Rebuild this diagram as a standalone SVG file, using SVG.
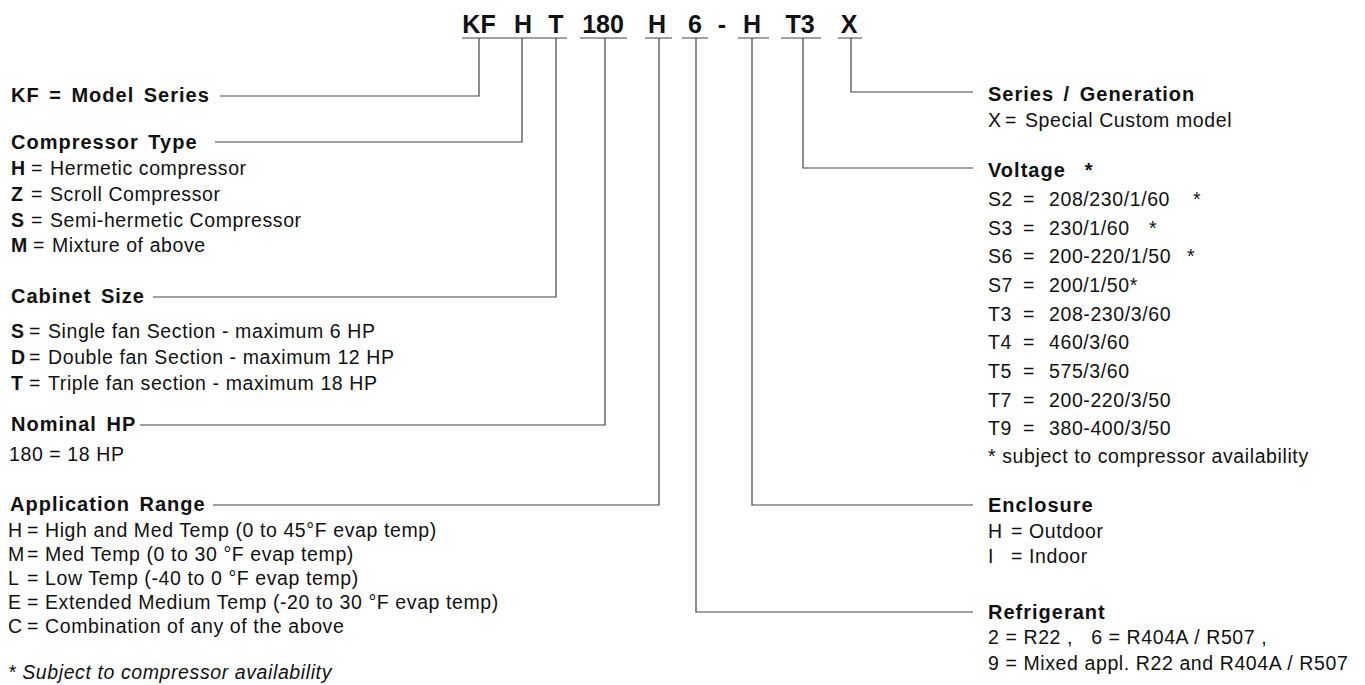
<svg xmlns="http://www.w3.org/2000/svg" width="1365" height="685" viewBox="0 0 1365 685">
<style>
text { fill: #111; font-family: "Liberation Sans", Arial, Helvetica, sans-serif; white-space: pre; }
.code { font-size: 25px; font-weight: bold; text-anchor: middle; }
.lbl { font-size: 20px; font-weight: bold; letter-spacing: 1px; word-spacing: 3px; }
.txt { font-size: 19.5px; letter-spacing: 0.6px; }
.it { font-style: italic; }
.b { font-weight: bold; }
.ln { stroke: #444; stroke-width: 1.2; fill: none; }
</style>
<rect width="1365" height="685" fill="#ffffff"/>

<g id="model-code">
  <text class="code" x="479" y="33">KF</text>
  <text class="code" x="523" y="33">H</text>
  <text class="code" x="556" y="33">T</text>
  <text class="code" x="603" y="33">180</text>
  <text class="code" x="657" y="33">H</text>
  <text class="code" x="695" y="33">6</text>
  <text class="code" x="722" y="33">-</text>
  <text class="code" x="752" y="33">H</text>
  <text class="code" x="800" y="33">T3</text>
  <text class="code" x="849" y="33">X</text>
</g>

<g id="connectors">
  <path class="ln" d="M462 38H567M580 38H627M645 38H672M682 38H708M738 38H769M781 38H821M838 38H862"/>
  <path class="ln" d="M479 38V96H220"/>
  <path class="ln" d="M522 38V142H215"/>
  <path class="ln" d="M556 38V297H153"/>
  <path class="ln" d="M605 38V425H140"/>
  <path class="ln" d="M659 38V505H213"/>
  <path class="ln" d="M696 38V612H973"/>
  <path class="ln" d="M752 38V505H973"/>
  <path class="ln" d="M803 38V168H973"/>
  <path class="ln" d="M851 38V92H973"/>
</g>

<g id="model-series">
  <text class="lbl" x="11" y="102">KF = Model Series</text>
</g>

<g id="compressor-type">
  <text class="lbl" x="11" y="149">Compressor Type</text>
  <text class="txt" y="175"><tspan class="b" x="11">H</tspan><tspan x="31">=</tspan><tspan x="50">Hermetic compressor</tspan></text>
  <text class="txt" y="201"><tspan class="b" x="11">Z</tspan><tspan x="31">=</tspan><tspan x="50">Scroll Compressor</tspan></text>
  <text class="txt" y="227"><tspan class="b" x="11">S</tspan><tspan x="31">=</tspan><tspan x="50">Semi-hermetic Compressor</tspan></text>
  <text class="txt" y="252"><tspan class="b" x="11">M</tspan><tspan x="33">=</tspan><tspan x="52">Mixture of above</tspan></text>
</g>

<g id="cabinet-size">
  <text class="lbl" x="11" y="303">Cabinet Size</text>
  <text class="txt" y="338"><tspan class="b" x="11">S</tspan><tspan x="29">=</tspan><tspan x="48">Single fan Section - maximum 6 HP</tspan></text>
  <text class="txt" y="364"><tspan class="b" x="11">D</tspan><tspan x="29">=</tspan><tspan x="48">Double fan Section - maximum 12 HP</tspan></text>
  <text class="txt" y="390"><tspan class="b" x="11">T</tspan><tspan x="29">=</tspan><tspan x="48">Triple fan section - maximum 18 HP</tspan></text>
</g>

<g id="nominal-hp">
  <text class="lbl" x="11" y="431">Nominal HP</text>
  <text class="txt" x="9" y="461">180 = 18 HP</text>
</g>

<g id="application-range">
  <text class="lbl" x="10" y="511">Application Range</text>
  <text class="txt" y="537"><tspan x="8">H</tspan><tspan x="27">=</tspan><tspan x="45">High and Med Temp (0 to 45°F evap temp)</tspan></text>
  <text class="txt" y="561"><tspan x="8">M</tspan><tspan x="27">=</tspan><tspan x="45">Med Temp (0 to 30 °F evap temp)</tspan></text>
  <text class="txt" y="585"><tspan x="8">L</tspan><tspan x="27">=</tspan><tspan x="45">Low Temp (-40 to 0 °F evap temp)</tspan></text>
  <text class="txt" y="609"><tspan x="8">E</tspan><tspan x="27">=</tspan><tspan x="45">Extended Medium Temp (-20 to 30 °F evap temp)</tspan></text>
  <text class="txt" y="633"><tspan x="8">C</tspan><tspan x="27">=</tspan><tspan x="45">Combination of any of the above</tspan></text>
  <text class="txt it" x="8" y="679">* Subject to compressor availability</text>
</g>

<g id="series-generation">
  <text class="lbl" x="988" y="101">Series / Generation</text>
  <text class="txt" y="127"><tspan x="988">X</tspan><tspan x="1005">=</tspan><tspan x="1025">Special Custom model</tspan></text>
</g>

<g id="voltage">
  <text class="lbl" x="988" y="177">Voltage  *</text>
  <text class="txt" y="206"><tspan x="988">S2</tspan><tspan x="1023">=</tspan><tspan x="1049">208/230/1/60</tspan><tspan x="1193">*</tspan></text>
  <text class="txt" y="235"><tspan x="988">S3</tspan><tspan x="1023">=</tspan><tspan x="1049">230/1/60</tspan><tspan x="1149">*</tspan></text>
  <text class="txt" y="263"><tspan x="988">S6</tspan><tspan x="1023">=</tspan><tspan x="1049">200-220/1/50</tspan><tspan x="1187">*</tspan></text>
  <text class="txt" y="292"><tspan x="988">S7</tspan><tspan x="1023">=</tspan><tspan x="1049">200/1/50*</tspan></text>
  <text class="txt" y="321"><tspan x="988">T3</tspan><tspan x="1023">=</tspan><tspan x="1049">208-230/3/60</tspan></text>
  <text class="txt" y="349"><tspan x="988">T4</tspan><tspan x="1023">=</tspan><tspan x="1049">460/3/60</tspan></text>
  <text class="txt" y="378"><tspan x="988">T5</tspan><tspan x="1023">=</tspan><tspan x="1049">575/3/60</tspan></text>
  <text class="txt" y="407"><tspan x="988">T7</tspan><tspan x="1023">=</tspan><tspan x="1049">200-220/3/50</tspan></text>
  <text class="txt" y="435"><tspan x="988">T9</tspan><tspan x="1023">=</tspan><tspan x="1049">380-400/3/50</tspan></text>
  <text class="txt" x="988" y="463">* subject to compressor availability</text>
</g>

<g id="enclosure">
  <text class="lbl" x="988" y="512">Enclosure</text>
  <text class="txt" y="538"><tspan x="988">H</tspan><tspan x="1011">=</tspan><tspan x="1029">Outdoor</tspan></text>
  <text class="txt" y="563"><tspan x="988">I</tspan><tspan x="1011">=</tspan><tspan x="1029">Indoor</tspan></text>
</g>

<g id="refrigerant">
  <text class="lbl" x="988" y="619">Refrigerant</text>
  <text class="txt" x="988" y="644">2 = R22 ,   6 = R404A / R507 ,</text>
  <text class="txt" x="988" y="670">9 = Mixed appl. R22 and R404A / R507</text>
</g>
</svg>
